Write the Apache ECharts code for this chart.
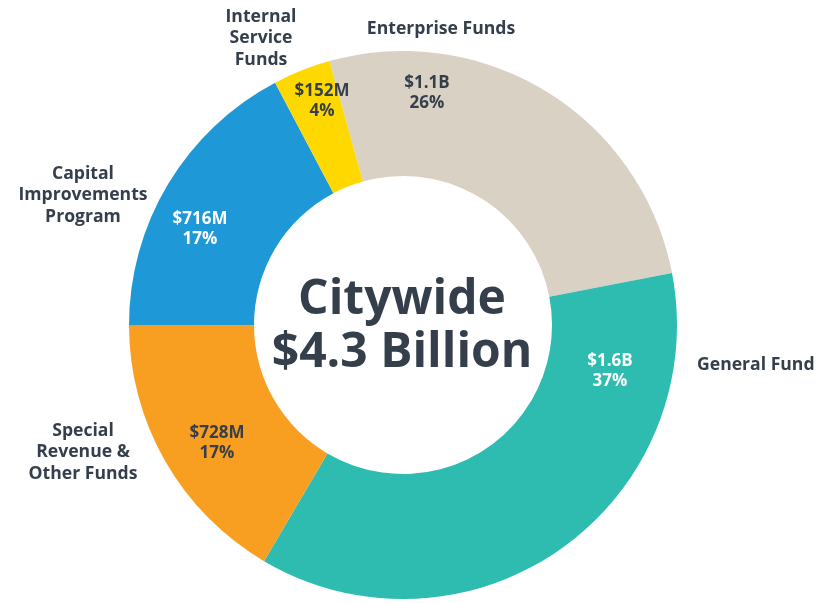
<!DOCTYPE html>
<html>
<head>
<meta charset="utf-8">
<script src="https://cdn.jsdelivr.net/npm/echarts@6/dist/echarts.min.js"></script>
<style>
html,body{margin:0;padding:0;background:#fff;}
#chart{width:816px;height:603px;}
</style>
</head>
<body>
<div id="chart"></div>
<script>
// Data (clockwise from top)
var categories = ['Enterprise Funds', 'General Fund', 'Special\nRevenue &\nOther Funds', 'Capital\nImprovements\nProgram', 'Internal\nService\nFunds'];
var values = [1131, 1570, 710, 744, 146]; // $ millions
var amountLabels = ['$1.1B', '$1.6B', '$728M', '$716M', '$152M'];
var percentLabels = ['26%', '37%', '17%', '17%', '4%'];
var centerLines = ['Citywide', '$4.3 Billion'];

var colors = ['#D9D1C4', '#2EBCB0', '#F89F22', '#1E98D6', '#FFD800'];
var insideTextColors = ['#343F4B', '#ffffff', '#343F4B', '#ffffff', '#343F4B'];
var dark = '#343F4B';
var FONT = '"Open Sans", sans-serif';

// label anchor positions (px)
var insidePos = [[427, 93], [610, 371], [217, 443], [200, 229], [322, 101]];
var outsidePos = [[441, 29], [697, 365], [83, 452], [83, 195], [261, 38]];
var outsideAlign = ['center', 'left', 'center', 'center', 'center'];

var chart = echarts.init(document.getElementById('chart'), null, {renderer: 'canvas'});

var innerData = categories.map(function (c, i) {
  return {
    name: c, value: values[i],
    itemStyle: {color: colors[i]},
    label: {color: insideTextColors[i]}
  };
});
var outerData = categories.map(function (c, i) {
  return {name: c, value: values[i]};
});

chart.setOption({
  animation: false,
  series: [
    {
      type: 'pie',
      center: [403, 325],
      radius: [149, 274],
      startAngle: 105.6,
      clockwise: true,
      silent: true,
      itemStyle: {borderWidth: 0},
      label: {
        show: true,
        position: 'inside',
        fontFamily: FONT,
        fontWeight: 'bold',
        fontSize: 17,
        lineHeight: 20,
        align: 'center',
        formatter: function (p) {
          return amountLabels[p.dataIndex] + '\n' + percentLabels[p.dataIndex];
        }
      },
      labelLine: {show: false},
      labelLayout: function (p) {
        var pos = insidePos[p.dataIndex];
        return {x: pos[0], y: pos[1], align: 'center', verticalAlign: 'middle', hideOverlap: false};
      },
      data: innerData
    },
    {
      type: 'pie',
      center: [403, 325],
      radius: [149, 274],
      startAngle: 105.6,
      clockwise: true,
      silent: true,
      itemStyle: {color: 'rgba(0,0,0,0)', borderWidth: 0},
      label: {
        show: true,
        position: 'outside',
        alignTo: 'none',
        overflow: 'none',
        width: 200,
        fontFamily: FONT,
        fontWeight: 'bold',
        fontSize: 17.6,
        lineHeight: 21.5,
        color: dark,
        formatter: '{b}'
      },
      labelLine: {show: false},
      labelLayout: function (p) {
        var pos = outsidePos[p.dataIndex];
        return {x: pos[0], y: pos[1], align: outsideAlign[p.dataIndex], verticalAlign: 'middle', hideOverlap: false};
      },
      data: outerData
    }
  ],
  graphic: [{
    type: 'text',
    x: 402,
    y: 327,
    silent: true,
    style: {
      text: centerLines.join('\n'),
      fontFamily: FONT,
      fontWeight: 'bold',
      fontSize: 48,
      lineHeight: 53,
      fill: dark,
      align: 'center',
      verticalAlign: 'middle'
    }
  }]
});
</script>
</body>
</html>
